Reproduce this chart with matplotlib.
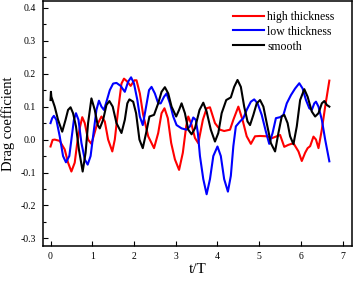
import matplotlib
matplotlib.use('Agg')
import matplotlib.pyplot as plt
from matplotlib.ticker import MultipleLocator

# high thickness (red)
t_high = [0.0, 0.05, 0.10, 0.22, 0.34, 0.42, 0.50, 0.58, 0.64, 0.70, 0.76, 0.82, 0.90, 0.98,
          1.10, 1.22, 1.30, 1.38, 1.48, 1.54, 1.62, 1.70, 1.76, 1.84, 1.92, 2.01, 2.06, 2.14,
          2.22, 2.34, 2.48, 2.58, 2.66, 2.73, 2.81, 2.89, 2.98, 3.08, 3.17, 3.25, 3.30, 3.38,
          3.46, 3.54, 3.65, 3.74, 3.82, 3.94, 4.06, 4.16, 4.30, 4.38, 4.50, 4.60, 4.70, 4.80,
          4.90, 5.02, 5.18, 5.30, 5.38, 5.50, 5.60, 5.70, 5.82, 5.94, 6.02, 6.10, 6.16, 6.22,
          6.30, 6.36, 6.42, 6.50, 6.58, 6.68]
cd_high = [-0.021, -0.001, 0.0, -0.004, -0.03, -0.07, -0.097, -0.07, -0.01, 0.035, 0.068, 0.05, 0.0, -0.013,
           0.04, 0.07, 0.055, 0.0, -0.036, 0.0, 0.09, 0.17, 0.185, 0.176, 0.163, 0.18, 0.18, 0.14,
           0.075, 0.01, -0.026, 0.02, 0.08, 0.095, 0.065, -0.01, -0.06, -0.092, -0.04, 0.04, 0.07, 0.045,
           0.005, -0.011, 0.06, 0.095, 0.098, 0.05, 0.03, 0.026, 0.03, 0.06, 0.1, 0.06, 0.01, -0.013,
           0.01, 0.011, 0.01, 0.004, 0.008, 0.014, -0.022, -0.016, -0.011, -0.036, -0.065, -0.04, -0.026, -0.02,
           0.009, 0.0, -0.026, 0.03, 0.1, 0.179]

# low thickness (blue)
t_low = [0.0, 0.04, 0.08, 0.14, 0.22, 0.30, 0.37, 0.45, 0.50, 0.56, 0.61, 0.67, 0.74, 0.82, 0.89,
         0.96, 1.02, 1.10, 1.16, 1.22, 1.28, 1.34, 1.42, 1.50, 1.58, 1.68, 1.78, 1.86, 1.93, 2.00,
         2.08, 2.14, 2.21, 2.29, 2.36, 2.42, 2.50, 2.58, 2.64, 2.72, 2.78, 2.86, 2.94, 3.02, 3.14,
         3.26, 3.34, 3.42, 3.48, 3.53, 3.58, 3.66, 3.74, 3.82, 3.90, 4.00, 4.08, 4.16, 4.25, 4.32,
         4.38, 4.44, 4.54, 4.62, 4.70, 4.80, 4.88, 4.96, 5.06, 5.16, 5.24, 5.32, 5.40, 5.50, 5.58,
         5.66, 5.76, 5.86, 5.96, 6.04, 6.12, 6.20, 6.26, 6.32, 6.36, 6.42, 6.50, 6.58, 6.68]
cd_low = [0.05, 0.065, 0.072, 0.06, 0.01, -0.05, -0.069, -0.05, 0.0, 0.06, 0.08, 0.06, -0.01, -0.06, -0.076,
          -0.05, 0.01, 0.09, 0.118, 0.1, 0.09, 0.115, 0.15, 0.17, 0.172, 0.163, 0.145, 0.176, 0.189, 0.17,
          0.12, 0.07, 0.044, 0.1, 0.15, 0.16, 0.14, 0.11, 0.11, 0.13, 0.14, 0.11, 0.07, 0.044, 0.034,
          0.03, 0.04, 0.067, 0.06, 0.02, -0.05, -0.12, -0.166, -0.12, -0.05, -0.021, -0.05, -0.12, -0.158, -0.11,
          -0.02, 0.04, 0.055, 0.065, 0.09, 0.115, 0.122, 0.11, 0.075, 0.024, -0.013, 0.02, 0.065, 0.068, 0.075,
          0.11, 0.135, 0.155, 0.171, 0.155, 0.12, 0.095, 0.09, 0.11, 0.115, 0.1, 0.06, 0.0, -0.066]

# smooth (black)
t_smooth = [0.0, 0.01, 0.02, 0.10, 0.18, 0.28, 0.36, 0.42, 0.48, 0.54, 0.61, 0.68, 0.77, 0.84, 0.90,
            0.98, 1.06, 1.13, 1.18, 1.26, 1.34, 1.41, 1.49, 1.58, 1.70, 1.78, 1.84, 1.89, 1.98, 2.05,
            2.13, 2.21, 2.29, 2.37, 2.48, 2.58, 2.66, 2.74, 2.82, 2.90, 3.01, 3.08, 3.14, 3.22, 3.30,
            3.38, 3.46, 3.57, 3.66, 3.74, 3.84, 3.94, 4.02, 4.10, 4.21, 4.32, 4.40, 4.48, 4.56, 4.64,
            4.72, 4.78, 4.86, 4.94, 5.02, 5.10, 5.18, 5.28, 5.38, 5.46, 5.54, 5.60, 5.68, 5.74, 5.82,
            5.90, 5.98, 6.08, 6.16, 6.26, 6.34, 6.42, 6.50, 6.56, 6.62, 6.68]
cd_smooth = [0.12, 0.145, 0.13, 0.1, 0.06, 0.024, 0.06, 0.09, 0.098, 0.08, 0.04, -0.03, -0.097, -0.04, 0.05,
             0.125, 0.09, 0.044, 0.034, 0.06, 0.105, 0.117, 0.1, 0.05, 0.02, 0.06, 0.11, 0.122, 0.115, 0.08,
             0.0, -0.026, 0.02, 0.07, 0.075, 0.11, 0.145, 0.159, 0.14, 0.1, 0.07, 0.09, 0.11, 0.08, 0.03,
             0.016, 0.034, 0.09, 0.112, 0.085, 0.03, -0.006, 0.02, 0.08, 0.12, 0.128, 0.16, 0.181, 0.16, 0.1,
             0.055, 0.044, 0.075, 0.11, 0.12, 0.1, 0.05, -0.011, -0.036, 0.02, 0.07, 0.075, 0.05, 0.01, -0.014,
             0.04, 0.12, 0.153, 0.13, 0.085, 0.07, 0.08, 0.11, 0.117, 0.105, 0.1]

plt.rcParams['font.family'] = 'Liberation Serif'

fig = plt.figure(figsize=(3.54, 2.82), dpi=100)
ax = fig.add_axes([0.1215, 0.1277, 0.8725, 0.868])

ax.plot(t_high, cd_high, color='#ff0000', lw=1.5, label='high thickness')
ax.plot(t_low, cd_low, color='#0000ff', lw=1.5, label='low thickness')
ax.plot(t_smooth, cd_smooth, color='black', lw=1.5, label='smooth')

ax.set_xlim(-0.18, 7.22)
ax.set_ylim(-0.323, 0.42)
ax.xaxis.set_major_locator(MultipleLocator(1))
ax.yaxis.set_major_locator(MultipleLocator(0.1))
ax.yaxis.set_minor_locator(MultipleLocator(0.05))
ax.tick_params(axis='both', which='both', direction='in', labelsize=7)
ax.tick_params(axis='y', which='major', length=3.5, width=0.8, pad=5)
ax.tick_params(axis='y', which='minor', length=2, width=0.8)
ax.tick_params(axis='x', which='major', length=3.5, width=0.8, pad=4)
ax.yaxis.set_major_formatter(matplotlib.ticker.FormatStrFormatter('%.1f'))
for s in ax.spines.values():
    s.set_linewidth(1.1)

ax.set_xlabel('t/T', fontsize=11, labelpad=2)
ax.set_ylabel('Drag coefficient', fontsize=10.5, labelpad=4)

ax.legend(loc='upper left', bbox_to_anchor=(0.585, 1.0), frameon=False, fontsize=8.5,
          handlelength=2.6, handletextpad=0.3, labelspacing=0.25, borderpad=0.3)

plt.savefig('out.png', dpi=100)
plt.close()
